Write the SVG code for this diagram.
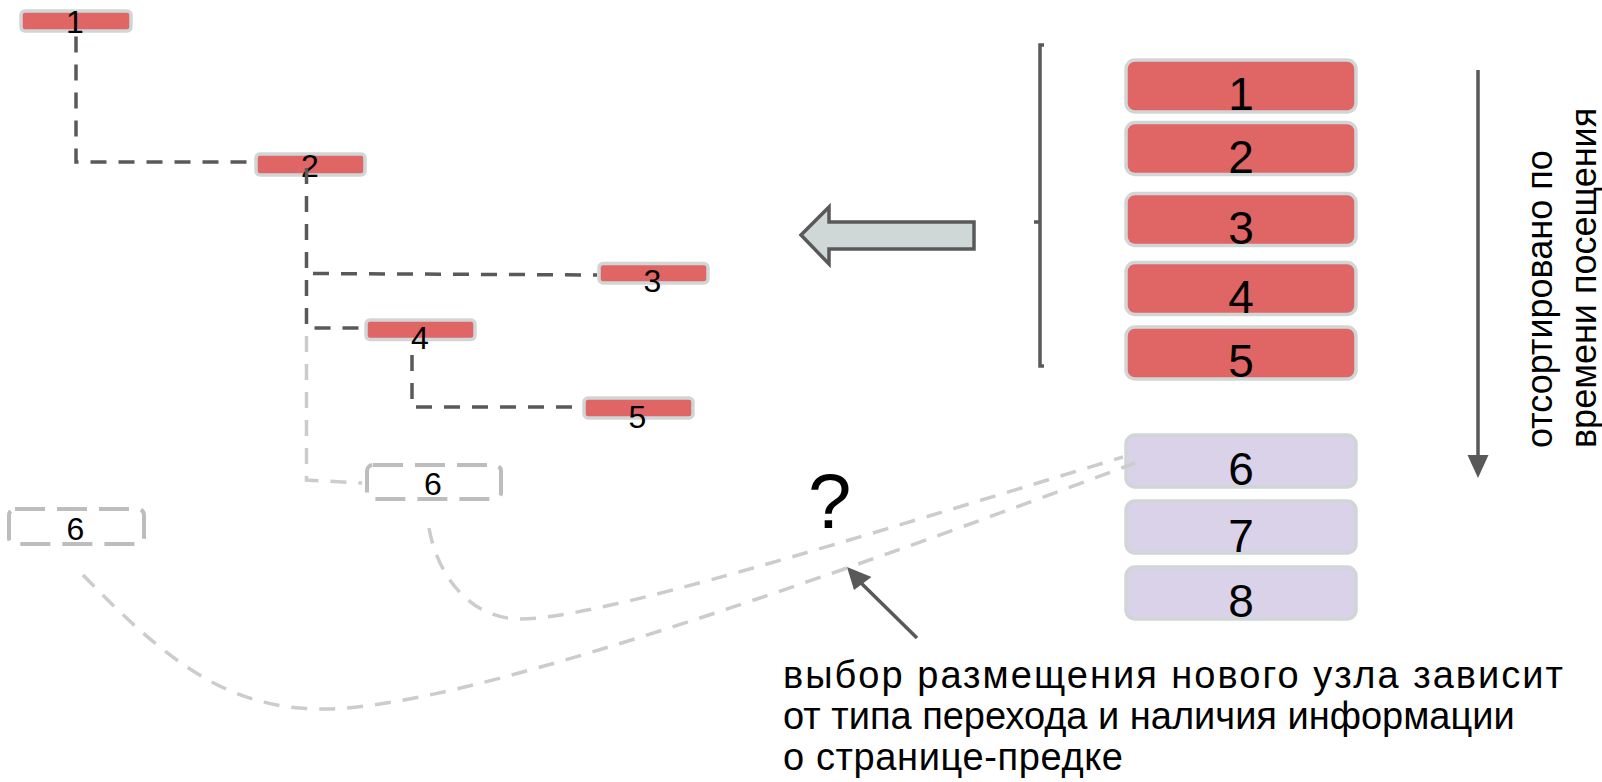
<svg xmlns="http://www.w3.org/2000/svg" width="1602" height="782" viewBox="0 0 1602 782">
<style>
.tn{fill:#e06666;stroke:#d0d6d6;stroke-width:3.5}
.pn{fill:#d9d2e9;stroke:#d0d6d6;stroke-width:3.5}
.gh{fill:#ffffff;stroke:#bdbdbd;stroke-width:4;stroke-dasharray:30 12}
.t{font-family:"Liberation Sans",Arial,sans-serif;fill:#000000}
.ts{font-size:32px;text-anchor:middle}
.tl{font-size:46px;text-anchor:middle}
.tx{font-size:36px}
.tb{font-size:38px}
.dk{fill:none;stroke:#595959;stroke-width:3.5;stroke-dasharray:16 12}
.lt{fill:none;stroke:#cccccc;stroke-width:3.5;stroke-dasharray:16 12}
.sl{fill:none;stroke:#595959;stroke-width:3.5}
</style>
<rect width="1602" height="782" fill="#ffffff"/>
<g id="tree-nodes">
  <g id="t1"><rect class="tn" x="21" y="11" width="110" height="20" rx="4"/><text class="t ts" x="75" y="33">1</text></g>
  <g id="t2"><rect class="tn" x="256" y="154" width="109" height="21" rx="4"/><text class="t ts" x="310" y="176.5">2</text></g>
  <g id="t3"><rect class="tn" x="599" y="263.5" width="109" height="19.5" rx="4"/><text class="t ts" x="652.5" y="291.5">3</text></g>
  <g id="t4"><rect class="tn" x="366" y="320" width="109" height="19.5" rx="4"/><text class="t ts" x="420" y="349">4</text></g>
  <g id="t5"><rect class="tn" x="584" y="398" width="109" height="20" rx="4"/><text class="t ts" x="637.5" y="428">5</text></g>
  <g id="t6a"><rect class="gh" x="367" y="465" width="134" height="34" rx="6"/><text class="t ts" x="433" y="495">6</text></g>
  <g id="t6b"><rect class="gh" x="9" y="509" width="135" height="35" rx="6"/><text class="t ts" x="75.5" y="540">6</text></g>
</g>
<g id="list-nodes">
  <g id="r1"><rect class="tn" x="1126" y="60" width="230" height="52" rx="9"/><text class="t tl" x="1241" y="110">1</text></g>
  <g id="r2"><rect class="tn" x="1126" y="122.5" width="230" height="52" rx="9"/><text class="t tl" x="1241" y="172.5">2</text></g>
  <g id="r3"><rect class="tn" x="1126" y="193.5" width="230" height="52" rx="9"/><text class="t tl" x="1241" y="244">3</text></g>
  <g id="r4"><rect class="tn" x="1126" y="262.5" width="230" height="52" rx="9"/><text class="t tl" x="1241" y="313">4</text></g>
  <g id="r5"><rect class="tn" x="1126" y="327" width="230" height="52" rx="9"/><text class="t tl" x="1241" y="376.5">5</text></g>
  <g id="r6"><rect class="pn" x="1126" y="435" width="230" height="52" rx="9"/><text class="t tl" x="1241" y="485">6</text></g>
  <g id="r7"><rect class="pn" x="1126" y="501" width="230" height="52" rx="9"/><text class="t tl" x="1241" y="551.5">7</text></g>
  <g id="r8"><rect class="pn" x="1126" y="567" width="230" height="52" rx="9"/><text class="t tl" x="1241" y="616.5">8</text></g>
</g>
<g id="bracket"><path class="sl" d="M1044,45 H1040 V366 H1044 M1034,222 H1040" stroke-width="3"/></g>
<g id="big-arrow"><polygon points="801,235 829,207 829,222 974,222 974,249 829,249 829,264" fill="#d0d7d7" stroke="#595959" stroke-width="3.5" stroke-linejoin="miter"/></g>
<g id="connectors">
  <path class="dk" d="M76,36.5 V162 H254"/>
  <path class="dk" d="M306.5,168 V328 H364"/>
  <path class="dk" d="M313,273.5 L597,275"/>
  <path class="dk" d="M412,355 V407 H582"/>
  <path class="lt" d="M306.5,336 V480 L362,483"/>
  <path class="lt" d="M429,528 C437,575 470,619 520,619 C600,619 850,540 1123,457"/>
  <path class="lt" d="M83,575 C170,665 230,709 323,709 C423,709 650,645 1135,463"/>
  <line class="sl" x1="1478" y1="70" x2="1478" y2="458"/>
  <polygon points="1467.5,455 1488.5,455 1478,478" fill="#595959"/>
  <line class="sl" x1="917" y1="638" x2="858" y2="580"/>
  <polygon points="847,567 871.5,577 854,590" fill="#595959"/>
</g>
<g id="labels">
  <text class="t" x="808" y="528" font-size="78">?</text>
  <text class="t tx" transform="translate(1552,448) rotate(-90)">отсортировано по</text>
  <text class="t tx" transform="translate(1596,448) rotate(-90)">времени посещения</text>
  <text class="t tb" x="783" y="688" textLength="780">выбор размещения нового узла зависит</text>
  <text class="t tb" x="783" y="729">от типа перехода и наличия информации</text>
  <text class="t tb" x="783" y="770" textLength="340">о странице-предке</text>
</g>
</svg>
